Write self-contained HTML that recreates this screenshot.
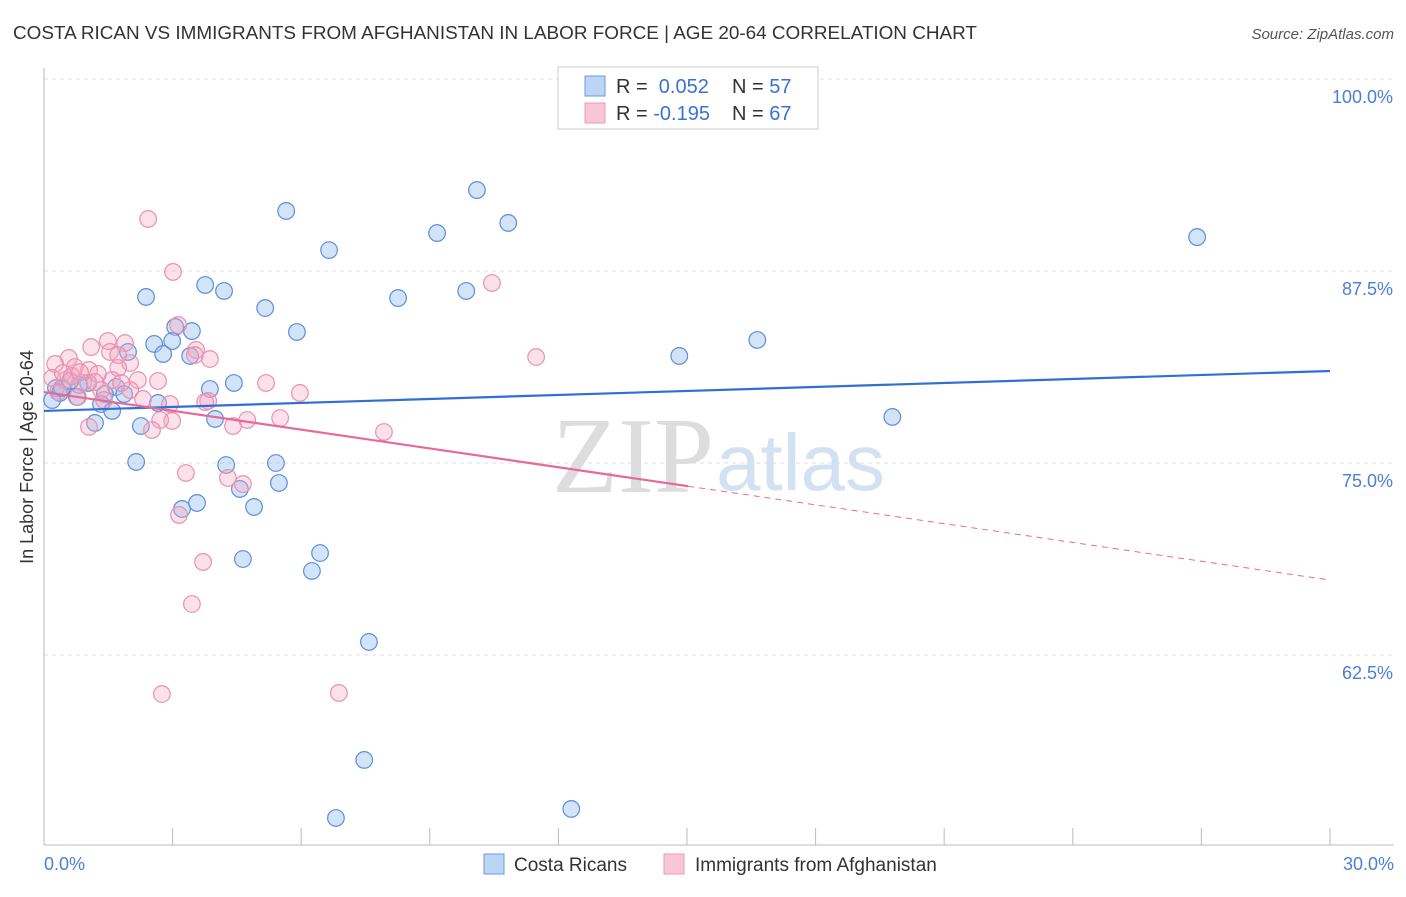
<!DOCTYPE html>
<html><head><meta charset="utf-8"><style>
body{margin:0;background:#fff;font-family:"Liberation Sans",sans-serif}
</style></head><body>
<svg id="c" width="1406" height="892" xmlns="http://www.w3.org/2000/svg">
<text x="13" y="39" font-size="18.9" fill="#333">COSTA RICAN VS IMMIGRANTS FROM AFGHANISTAN IN LABOR FORCE | AGE 20-64 CORRELATION CHART</text>
<text x="1394" y="39" font-size="15" fill="#555" font-style="italic" text-anchor="end">Source: ZipAtlas.com</text>
<text x="714" y="492" font-size="108" font-family="Liberation Serif,serif" fill="#ddd" text-anchor="end">ZIP</text>
<text x="716" y="490" font-size="80" fill="#d3e2f3">atlas</text>
<g id="grid"></g><g id="pts"></g><g id="trend"></g>
<text x="33" y="457" font-size="18" fill="#333" text-anchor="middle" transform="rotate(-90 33 457)">In Labor Force | Age 20-64</text>
<text x="44" y="870" font-size="18" fill="#4a7fd6">0.0%</text>
<text x="1394" y="870" font-size="18" fill="#4a7fd6" text-anchor="end">30.0%</text>
<g>
<rect x="558" y="67" width="260" height="62" fill="#fff" stroke="#ccc"/>
<rect x="585" y="76" width="20" height="20" fill="#bcd5f5" stroke="#6a9ae0"/>
<rect x="585" y="103" width="20" height="20" fill="#f9c6d6" stroke="#ee9ab8"/>
<text x="616" y="93" font-size="20" fill="#333">R = <tspan fill="#3a72d4">&#160;0.052</tspan><tspan x="732">N = </tspan><tspan fill="#3a72d4">57</tspan></text>
<text x="616" y="120" font-size="20" fill="#333">R = <tspan fill="#3a72d4">-0.195</tspan><tspan x="732">N = </tspan><tspan fill="#3a72d4">67</tspan></text>
</g>
<g>
<rect x="484" y="854" width="20" height="20" fill="#bcd5f5" stroke="#6a9ae0"/>
<text x="514" y="871" font-size="19" fill="#333">Costa Ricans</text>
<rect x="664" y="854" width="20" height="20" fill="#f9c6d6" stroke="#ee9ab8"/>
<text x="695" y="871" font-size="19" fill="#333">Immigrants from Afghanistan</text>
</g>
</svg>
<script>
const yTicks=[100,87.5,75,62.5];
const yTickLabels=["100.0%","87.5%","75.0%","62.5%"];
const xTicks=[0,3,6,9,12,15,18,21,24,27,30];
const blueX=[10.10,5.65,10.83,9.17,6.65,26.90,2.38,3.76,4.20,9.85,8.26,5.16,5.90,3.06,3.45,2.99,2.57,1.96,2.78,3.41,14.82,16.64,4.43,3.87,1.68,1.03,0.82,0.28,0.37,0.77,1.42,1.87,1.33,2.66,1.59,3.99,19.79,2.26,1.19,2.15,4.25,5.41,5.48,4.57,3.22,3.57,4.90,4.64,6.44,6.25,7.58,7.47,12.30,6.81,0.19,0.42,0.61];
const blueY=[92.77,91.41,90.63,89.97,88.86,89.71,85.81,86.59,86.20,86.20,85.74,85.09,83.53,83.86,83.59,82.94,82.75,82.23,82.10,81.97,81.97,83.01,80.21,79.82,79.95,80.21,80.08,79.88,79.56,79.30,79.49,79.49,78.84,78.91,78.39,77.87,78.00,77.41,77.61,75.07,74.87,75.00,73.70,73.31,72.01,72.40,72.14,68.75,69.14,67.97,63.35,55.67,52.48,51.89,79.10,79.88,80.34];
const pinkX=[2.43,3.01,10.45,3.13,11.48,1.49,1.89,1.10,0.58,0.26,0.72,1.05,1.54,2.01,1.73,3.55,3.87,1.26,2.19,2.66,5.18,5.97,1.59,0.91,0.49,0.19,0.33,1.33,2.01,3.83,2.31,2.94,5.51,4.74,4.41,2.99,2.71,2.52,1.05,7.93,3.31,4.29,4.64,3.15,3.71,3.45,2.75,6.88,0.44,0.65,0.84,1.19,1.80,3.52,0.79,1.40,1.73,3.76];
const pinkY=[90.89,87.44,86.72,83.98,81.90,82.94,82.81,82.55,81.84,81.45,81.25,81.06,82.23,81.51,81.19,82.36,81.77,80.80,80.40,80.34,80.21,79.56,80.40,80.21,80.40,80.54,79.62,79.75,79.75,79.04,79.17,78.84,77.93,77.80,77.41,77.74,77.80,77.15,77.35,77.02,74.35,74.03,73.63,71.62,68.56,65.82,59.96,60.03,80.86,80.66,80.92,80.27,80.21,82.03,79.30,79.10,82.03,78.97];
const blueTrend=[78.39,80.99];
const pinkTrend=[79.62,67.38];
const pinkSolidEnd=15.03;
const NS="http://www.w3.org/2000/svg";
const X=v=>44+v/30*1286, Y=v=>79+(100-v)/12.5*192;
function mk(t,a,p){const e=document.createElementNS(NS,t);for(const k in a)e.setAttribute(k,a[k]);p.appendChild(e);return e;}
const g=document.getElementById('grid');
yTicks.forEach((t,i)=>{
 const l=mk('line',{x1:44,x2:1394,y1:Y(t),y2:Y(t),stroke:'#ddd','stroke-dasharray':'4 4'},g);
 
 
 const tx=mk('text',{x:1393,y:Y(t)+24,'font-size':18,fill:'#4a7fd6','text-anchor':'end'},g);
 tx.textContent=yTickLabels[i];
 
 
});
const ax=mk('line',{x1:44,x2:44,y1:68,y2:845,stroke:'#bbb'},g);


const bx=mk('line',{x1:44,x2:1394,y1:845,y2:845,stroke:'#bbb'},g);


xTicks.forEach(t=>{const l=mk('line',{x1:X(t),x2:X(t),y1:828,y2:845,stroke:'#bbb'},g);
 
 });
const p=document.getElementById('pts');
blueX.forEach((v,i)=>{const c=mk('circle',{cx:X(v),cy:Y(blueY[i]),r:8.3,fill:'rgba(160,196,240,0.45)',stroke:'#5b8fd8','stroke-width':1.2},p);
 
 });
pinkX.forEach((v,i)=>{const c=mk('circle',{cx:X(v),cy:Y(pinkY[i]),r:8.3,fill:'rgba(244,170,196,0.35)',stroke:'#ec8fb0','stroke-width':1.2},p);
 
 });
const tr=document.getElementById('trend');
const b=mk('line',{x1:X(0),y1:Y(blueTrend[0]),x2:X(30),y2:Y(blueTrend[1]),stroke:'#2f6fd6','stroke-width':2.2},tr);


const py=x=>pinkTrend[0]+(pinkTrend[1]-pinkTrend[0])*x/30;
const s=mk('line',{x1:X(0),y1:Y(py(0)),x2:X(pinkSolidEnd),y2:Y(py(pinkSolidEnd)),stroke:'#e8689a','stroke-width':2.2},tr);


const d=mk('line',{x1:X(pinkSolidEnd),y1:Y(py(pinkSolidEnd)),x2:X(30),y2:Y(py(30)),stroke:'#e8689a','stroke-width':1,'stroke-dasharray':'6 5'},tr);


</script>
</body></html>
